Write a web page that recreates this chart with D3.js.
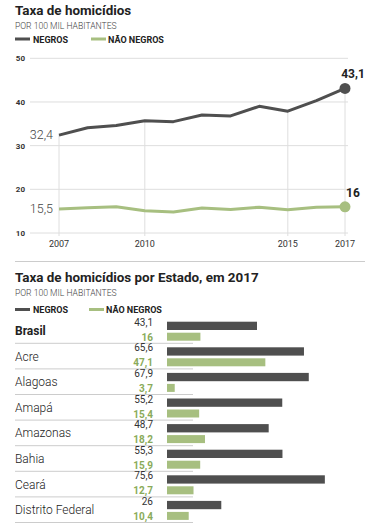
<!DOCTYPE html>
<html>
<head>
<meta charset="utf-8">
<script src="https://cdn.jsdelivr.net/npm/d3@7"></script>
<style>
  body { margin:0; background:#fff; }
  svg { display:block; font-family: Roboto, "Noto Sans", sans-serif; }
</style>
</head>
<body>
<div id="canvas"></div>
<script>
// data
var years = [2007,2008,2009,2010,2011,2012,2013,2014,2015,2016,2017];
var negros = [32.4,34.1,34.6,35.7,35.5,37.0,36.8,39.0,37.9,40.3,43.1];
var naoNegros = [15.5,15.8,16.0,15.1,14.8,15.7,15.4,15.9,15.3,15.9,16.0];
var yTicks = [10,20,30,40,50];
var xTicks = [2007,2010,2015,2017];

var estados = ['Brasil','Acre','Alagoas','Amapá','Amazonas','Bahia','Ceará','Distrito Federal'];
var estNegros = [43.1,65.6,67.9,55.2,48.7,55.3,75.6,26];
var estNaoNegros = [16,47.1,3.7,15.4,18.2,15.9,12.7,10.4];

var dark = '#4f4f4f', green = '#a7bf80', greenText = '#8aab5a';
var fmt = function(v){ return String(v).replace('.',','); };

var svg = d3.select('#canvas').append('svg')
    .attr('width',368).attr('height',530);

function header(y, title){
    svg.append('text').attr('x',15).attr('y',y)
        .style('font-size','13.4px').style('font-weight','bold').style('fill','#222')
        .text(title);
    svg.append('text').attr('x',15).attr('y',y+14)
        .style('font-size','8.6px').style('fill','#444').style('font-weight','300')
        .text('POR 100 MIL HABITANTES');
}
function legend(y, gx){
    var g = svg.append('g').attr('transform','translate(0,'+y+')');
    g.append('rect').attr('x',15).attr('y',-1.5).attr('width',15).attr('height',3).style('fill',dark);
    g.append('text').attr('x',33).attr('y',3.5).text('NEGROS')
        .style('font-size','9px').style('font-weight','bold').style('fill','#222');
    g.append('rect').attr('x',gx).attr('y',-1.5).attr('width',15).attr('height',3).style('fill',green);
    g.append('text').attr('x',gx+17).attr('y',3.5).text('NÃO NEGROS')
        .style('font-size','9px').style('font-weight','bold').style('fill','#222');
}

// ---- line chart
header(15, 'Taxa de homicídios');
legend(39, 91);

var x = d3.scaleLinear().domain([2007,2017]).range([59,345]);
var y = d3.scaleLinear().domain([10,50]).range([233,58.3]);

var plot = svg.append('g');
plot.selectAll('.grid').data(yTicks).enter().append('line')
    .attr('x1',30).attr('x2',348)
    .attr('y1',function(d){return y(d)}).attr('y2',function(d){return y(d)})
    .style('stroke','#dedede').style('stroke-width',1);
plot.selectAll('.ylab').data(yTicks).enter().append('text')
    .attr('x',25).attr('y',function(d){return y(d)+3})
    .attr('text-anchor','end')
    .style('font-size','8px').style('font-weight','bold').style('fill','#333')
    .text(function(d){return d});

plot.selectAll('.vgrid').data(xTicks).enter().append('line')
    .attr('x1',function(d){return x(d)}).attr('x2',function(d){return x(d)})
    .attr('y1',function(d){return y(negros[years.indexOf(d)])}).attr('y2',236)
    .style('stroke','#dedede').style('stroke-width',1);
plot.selectAll('.xlab').data(xTicks).enter().append('text')
    .attr('x',function(d){return x(d)}).attr('y',247)
    .attr('text-anchor','middle')
    .style('font-size','9px').style('fill','#333')
    .text(function(d){return d});

var line = d3.line()
    .x(function(d,i){return x(years[i])})
    .y(function(d){return y(d)});

[[negros,dark],[naoNegros,green]].forEach(function(s){
    var vals = s[0], c = s[1];
    plot.append('path').datum(vals).attr('d',line)
        .style('fill','none').style('stroke',c).style('stroke-width',3)
        .style('stroke-linejoin','round');
    plot.append('circle').attr('cx',x(2017)).attr('cy',y(vals[vals.length-1])).attr('r',5.5)
        .style('fill',c);
    plot.append('text').attr('x',x(2007)-6).attr('y',y(vals[0])+4)
        .attr('text-anchor','end')
        .style('font-size','12.5px').style('font-weight','300').style('fill','#444')
        .text(fmt(vals[0]));
    plot.append('text').attr('x',x(2017)+8).attr('y',y(vals[vals.length-1])-10)
        .attr('text-anchor','middle')
        .style('font-size','12px').style('font-weight','bold').style('fill','#222')
        .text(fmt(vals[vals.length-1]));
});

// separator
svg.append('line').attr('x1',15).attr('x2',365).attr('y1',261.5).attr('y2',261.5)
    .style('stroke','#ccc').style('stroke-width',1);

// ---- bar chart
header(282, 'Taxa de homicídios por Estado, em 2017');
legend(309.5, 89);

var band = d3.scaleBand().domain(estados).range([317.7,522.5]);
var bx = d3.scaleLinear().domain([0,100]).range([167,375.8]);

var rows = svg.selectAll('.row').data(estados).enter().append('g')
    .attr('transform',function(d){return 'translate(0,'+band(d)+')'});

rows.append('text').attr('x',15).attr('y',band.bandwidth()/2+4.5)
    .style('font-size','12px')
    .style('font-weight',function(d,i){return i===0?'bold':'300'})
    .style('fill','#222')
    .text(function(d){return d});

rows.append('text').attr('x',153).attr('y',8)
    .attr('text-anchor','end').style('font-size','10px').style('fill','#333')
    .text(function(d,i){return fmt(estNegros[i])});
rows.append('text').attr('x',153).attr('y',23)
    .attr('text-anchor','end').style('font-size','10px').style('font-weight','bold').style('fill',greenText)
    .text(function(d,i){return fmt(estNaoNegros[i])});

rows.append('rect').attr('x',bx(0)).attr('y',4)
    .attr('width',function(d,i){return bx(estNegros[i])-bx(0)}).attr('height',8.3)
    .style('fill',dark);
rows.append('rect').attr('x',bx(0)).attr('y',15)
    .attr('width',function(d,i){return bx(estNaoNegros[i])-bx(0)}).attr('height',8)
    .style('fill',green);

rows.append('line').attr('x1',15).attr('x2',193)
    .attr('y1',band.bandwidth()).attr('y2',band.bandwidth())
    .style('stroke','#ccc').style('stroke-width',1);
</script>
</body>
</html>
